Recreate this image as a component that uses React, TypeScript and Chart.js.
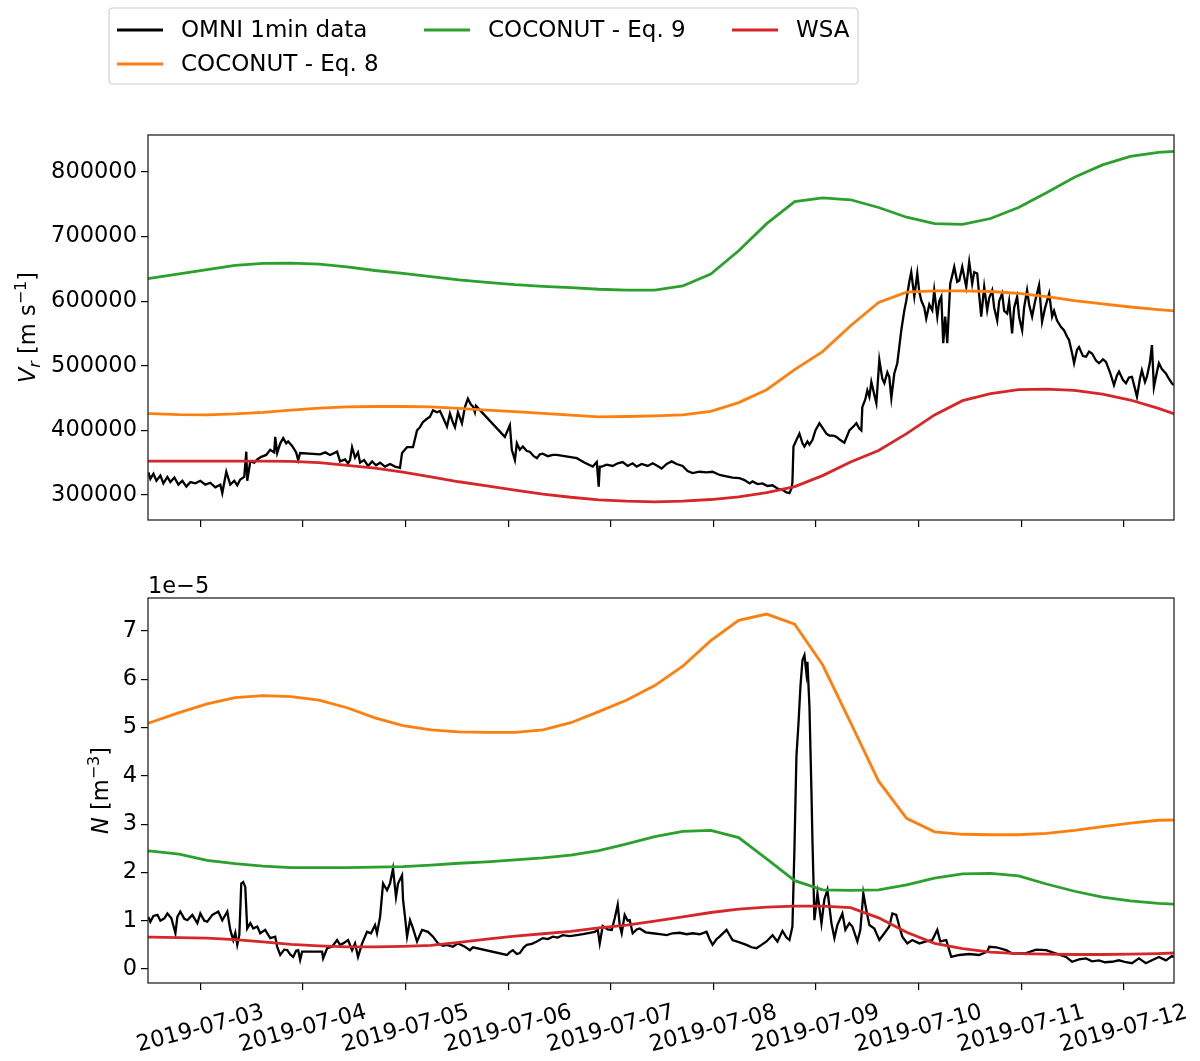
import React, { useEffect, useRef } from 'react';
import { Chart, registerables } from 'chart.js';

Chart.register(...registerables);

const FONT = '"DejaVu Sans", "Liberation Sans", sans-serif';

// ---- series styling / legend labels ----
const SERIES_LABELS = ['OMNI 1min data', 'COCONUT - Eq. 8', 'COCONUT - Eq. 9', 'WSA'];
const SERIES_COLORS = ['#000000', '#ff7f0e', '#2ca02c', '#d62728'];

// ---- x axis (day of July 2019) ----
const X_TICKS = [3, 4, 5, 6, 7, 8, 9, 10, 11, 12];
const X_TICK_LABELS = [
  '2019-07-03', '2019-07-04', '2019-07-05', '2019-07-06', '2019-07-07',
  '2019-07-08', '2019-07-09', '2019-07-10', '2019-07-11', '2019-07-12',
];
const V_TICKS = [300000, 400000, 500000, 600000, 700000, 800000];
const N_TICKS = [0, 1, 2, 3, 4, 5, 6, 7];

// ---- model output times (day of July 2019) ----
const MODEL_T = [
  2.248, 2.521, 2.793, 3.066, 3.339, 3.611, 3.884, 4.157, 4.43, 4.702,
  4.975, 5.248, 5.52, 5.793, 6.066, 6.339, 6.611, 6.884, 7.157, 7.429,
  7.702, 7.975, 8.247, 8.52, 8.793, 9.065, 9.338, 9.611, 9.884, 10.156,
  10.429, 10.702, 10.975, 11.247, 11.52, 11.793, 12.065, 12.338, 12.611,
];

// ---- Vr [m/s] ----
const V_EQ8 = [
  426500, 426000, 424500, 424000, 425500, 428000, 431500, 434500, 436500, 437000,
  437000, 436500, 434000, 431500, 429000, 426500, 423500, 421000, 421500, 422500,
  424000, 429500, 443000, 463000, 494000, 522000, 562000, 598000, 614000, 616000,
  616000, 615000, 612000, 607000, 601000, 596000, 591000, 587000, 583500,
];
const V_EQ9 = [
  629000, 635700, 642400, 649000, 655500, 658500, 659000, 657500, 653000, 647500,
  643000, 638000, 633000, 629000, 625500, 623000, 621000, 618500, 617000, 617000,
  623500, 642000, 678000, 720000, 754000, 760000, 757000, 745000, 730000, 720000,
  719000, 728000, 745000, 768000, 792000, 811000, 824000, 830500, 833000,
];
const V_WSA = [
  352500, 352500, 352500, 352500, 352500, 352500, 352000, 350000, 346000, 341500,
  335500, 328000, 320500, 314000, 307500, 301500, 296500, 292500, 290500, 289500,
  290500, 293000, 297000, 303500, 313000, 330000, 351000, 369000, 395000, 424000,
  446000, 457000, 463000, 464000, 462000, 456000, 447000, 434000, 419000,
];

// ---- N [1e-5 m^-3] ----
const N_EQ8 = [
  4.91, 5.11, 5.31, 5.49, 5.62, 5.66, 5.64, 5.57, 5.41, 5.2,
  5.04, 4.95, 4.91, 4.9, 4.9, 4.95, 5.1, 5.33, 5.57, 5.87,
  6.27, 6.8, 7.22, 7.35, 7.14, 6.3, 5.1, 3.89, 3.12, 2.84,
  2.79, 2.78, 2.78, 2.81, 2.87, 2.95, 3.02, 3.08, 3.09,
];
const N_EQ9 = [
  2.47, 2.44, 2.38, 2.25, 2.18, 2.13, 2.1, 2.1, 2.1, 2.11,
  2.12, 2.15, 2.19, 2.22, 2.26, 2.3, 2.36, 2.45, 2.59, 2.74,
  2.85, 2.87, 2.72, 2.28, 1.83, 1.64, 1.63, 1.64, 1.74, 1.88,
  1.97, 1.98, 1.93, 1.76, 1.61, 1.49, 1.41, 1.36, 1.33,
];
const N_WSA = [
  0.66, 0.66, 0.65, 0.64, 0.61, 0.56, 0.51, 0.48, 0.46, 0.46,
  0.47, 0.49, 0.55, 0.62, 0.68, 0.73, 0.78, 0.85, 0.91, 0.99,
  1.08, 1.17, 1.24, 1.28, 1.3, 1.3, 1.27, 1.06, 0.76, 0.53,
  0.42, 0.35, 0.32, 0.31, 0.3, 0.3, 0.31, 0.32, 0.34,
];

// ---- OMNI 1-min Vr (sampled trace) ----
const OMNI_V_T = [
  2.494, 2.513, 2.543, 2.572, 2.611, 2.64, 2.679, 2.708, 2.747, 2.786, 2.825, 2.864, 2.903, 2.951,
  3.0, 3.049, 3.097, 3.146, 3.195, 3.214, 3.253, 3.292, 3.331, 3.36, 3.389, 3.428, 3.448, 3.457,
  3.487, 3.526, 3.555, 3.594, 3.642, 3.681, 3.72, 3.73, 3.749, 3.779, 3.808, 3.837, 3.856, 3.895,
  3.934, 3.954, 3.973, 4.168, 4.217, 4.265, 4.333, 4.362, 4.411, 4.44, 4.459, 4.479, 4.508, 4.537,
  4.557, 4.596, 4.635, 4.674, 4.713, 4.752, 4.8, 4.849, 4.898, 4.946, 4.966, 5.015, 5.073, 5.112,
  5.141, 5.17, 5.209, 5.238, 5.268, 5.307, 5.336, 5.365, 5.404, 5.433, 5.462, 5.482, 5.511, 5.55,
  5.579, 5.608, 5.637, 5.657, 5.676, 5.686, 5.968, 6.017, 6.036, 6.066, 6.085, 6.114, 6.143, 6.182,
  6.211, 6.25, 6.28, 6.309, 6.338, 6.387, 6.436, 6.474, 6.669, 6.747, 6.825, 6.864, 6.883, 6.893,
  6.912, 6.961, 7.019, 7.068, 7.117, 7.165, 7.214, 7.253, 7.302, 7.36, 7.409, 7.457, 7.496, 7.545,
  7.594, 7.642, 7.701, 7.749, 7.798, 7.866, 7.934, 7.993, 8.061, 8.129, 8.187, 8.255, 8.304, 8.353,
  8.382, 8.431, 8.479, 8.528, 8.577, 8.625, 8.674, 8.713, 8.742, 8.762, 8.771, 8.781, 8.81, 8.839,
  8.869, 8.888, 8.917, 8.937, 8.966, 8.995, 9.034, 9.073, 9.102, 9.131, 9.17, 9.199, 9.238, 9.277,
  9.306, 9.326, 9.365, 9.394, 9.423, 9.443, 9.452, 9.481, 9.501, 9.521, 9.54, 9.569, 9.589, 9.618,
  9.647, 9.667, 9.696, 9.715, 9.735, 9.764, 9.793, 9.813, 9.832, 9.861, 9.881, 9.91, 9.929, 9.959,
  9.988, 10.007, 10.027, 10.056, 10.075, 10.105, 10.134, 10.153, 10.183, 10.202, 10.222, 10.241, 10.26, 10.28,
  10.309, 10.329, 10.348, 10.377, 10.397, 10.426, 10.445, 10.465, 10.494, 10.523, 10.543, 10.572, 10.591, 10.611,
  10.64, 10.669, 10.689, 10.718, 10.737, 10.767, 10.786, 10.815, 10.835, 10.864, 10.883, 10.912, 10.932, 10.961,
  10.981, 11.01, 11.029, 11.058, 11.078, 11.107, 11.136, 11.175, 11.204, 11.234, 11.273, 11.302, 11.321, 11.35,
  11.389, 11.418, 11.448, 11.467, 11.496, 11.516, 11.545, 11.564, 11.603, 11.633, 11.662, 11.691, 11.73, 11.759,
  11.798, 11.827, 11.866, 11.905, 11.934, 11.954, 11.993, 12.022, 12.051, 12.08, 12.109, 12.129, 12.158, 12.177,
  12.207, 12.226, 12.255, 12.275, 12.294, 12.323, 12.343, 12.372, 12.411, 12.44, 12.469, 12.489,
];
const OMNI_V = [
  335000, 325000, 333000, 322000, 330000, 318000, 328000, 320000, 327000, 316000, 322000, 313000, 320000, 318000,
  322000, 316000, 319000, 312000, 316000, 303000, 336000, 316000, 322000, 315000, 324000, 328000, 367000, 322000,
  352000, 350000, 355000, 359000, 362000, 370000, 366000, 390000, 365000, 380000, 388000, 380000, 383000, 376000,
  366000, 354000, 365000, 363000, 366000, 362000, 367000, 352000, 355000, 349000, 354000, 374000, 358000, 366000,
  350000, 354000, 345000, 352000, 346000, 350000, 344000, 348000, 344000, 342000, 365000, 374000, 374000, 400000,
  405000, 413000, 418000, 421000, 431000, 428000, 430000, 420000, 406000, 426000, 412000, 405000, 428000, 411000,
  436000, 449000, 440000, 437000, 428000, 438000, 390000, 408000, 370000, 354000, 380000, 370000, 375000, 368000,
  367000, 360000, 357000, 363000, 364000, 360000, 362000, 362000, 357000, 350000, 344000, 351000, 313000, 344000,
  344000, 347000, 345000, 349000, 351000, 345000, 349000, 344000, 348000, 345000, 349000, 345000, 341000, 348000,
  352000, 348000, 345000, 337000, 334000, 336000, 335000, 336000, 331000, 329000, 327000, 326000, 323000, 318000,
  321000, 317000, 318000, 314000, 315000, 310000, 308000, 304000, 303000, 310000, 320000, 375000, 385000, 395000,
  380000, 375000, 383000, 378000, 385000, 400000, 411000, 402000, 395000, 392000, 392000, 390000, 385000, 381000,
  392000, 400000, 406000, 411000, 403000, 400000, 436000, 448000, 462000, 452000, 475000, 455000, 442000, 509000,
  480000, 473000, 490000, 483000, 450000, 488000, 504000, 530000, 555000, 585000, 601000, 630000, 645000, 607000,
  643000, 615000, 601000, 590000, 573000, 595000, 586000, 617000, 576000, 600000, 607000, 535000, 576000, 535000,
  627000, 640000, 653000, 630000, 632000, 653000, 638000, 622000, 661000, 627000, 645000, 643000, 610000, 576000,
  622000, 586000, 605000, 617000, 590000, 570000, 600000, 612000, 585000, 581000, 600000, 550000, 590000, 607000,
  575000, 555000, 590000, 617000, 595000, 576000, 600000, 625000, 568000, 590000, 612000, 576000, 585000, 570000,
  560000, 555000, 545000, 540000, 520000, 504000, 525000, 529000, 515000, 514000, 522000, 519000, 508000, 504000,
  510000, 506000, 490000, 470000, 485000, 491000, 478000, 473000, 482000, 483000, 465000, 452000, 480000, 493000,
  475000, 483000, 505000, 532000, 467000, 490000, 504000, 495000, 488000, 480000, 473000, 470000,
];

// ---- OMNI 1-min N [1e-5 m^-3] (sampled trace) ----
const OMNI_N_T = [
  2.494, 2.513, 2.543, 2.582, 2.611, 2.65, 2.679, 2.718, 2.757, 2.776, 2.805, 2.844, 2.874, 2.922,
  2.971, 3.0, 3.039, 3.068, 3.117, 3.175, 3.214, 3.263, 3.292, 3.321, 3.341, 3.36, 3.38, 3.399,
  3.418, 3.438, 3.457, 3.487, 3.516, 3.555, 3.584, 3.632, 3.681, 3.73, 3.749, 3.779, 3.818, 3.847,
  3.876, 3.905, 3.934, 3.954, 3.973, 3.992, 4.187, 4.197, 4.236, 4.284, 4.333, 4.362, 4.392, 4.44,
  4.479, 4.508, 4.537, 4.577, 4.625, 4.664, 4.703, 4.722, 4.752, 4.781, 4.82, 4.849, 4.878, 4.907,
  4.927, 4.966, 4.976, 4.995, 5.015, 5.044, 5.073, 5.112, 5.161, 5.219, 5.268, 5.316, 5.365, 5.404,
  5.462, 5.511, 5.579, 5.628, 5.657, 5.988, 6.017, 6.046, 6.085, 6.114, 6.153, 6.182, 6.231, 6.28,
  6.338, 6.387, 6.436, 6.484, 6.533, 6.601, 6.669, 6.728, 6.796, 6.844, 6.874, 6.893, 6.922, 6.971,
  7.01, 7.039, 7.068, 7.088, 7.107, 7.136, 7.165, 7.185, 7.214, 7.253, 7.282, 7.341, 7.409, 7.477,
  7.545, 7.603, 7.671, 7.74, 7.798, 7.866, 7.934, 7.963, 7.993, 8.032, 8.061, 8.129, 8.187, 8.255,
  8.323, 8.372, 8.421, 8.47, 8.518, 8.577, 8.625, 8.674, 8.713, 8.742, 8.771, 8.791, 8.81, 8.83,
  8.849, 8.869, 8.888, 8.907, 8.917, 8.937, 8.956, 8.966, 8.976, 8.985, 9.015, 9.054, 9.083, 9.112,
  9.151, 9.18, 9.209, 9.258, 9.287, 9.326, 9.355, 9.404, 9.433, 9.462, 9.491, 9.521, 9.569, 9.618,
  9.667, 9.715, 9.745, 9.783, 9.813, 9.842, 9.891, 9.939, 10.007, 10.075, 10.134, 10.183, 10.212, 10.27,
  10.299, 10.319, 10.397, 10.494, 10.591, 10.669, 10.689, 10.757, 10.854, 10.912, 11.049, 11.146, 11.243, 11.341,
  11.438, 11.496, 11.564, 11.633, 11.691, 11.759, 11.817, 11.885, 11.954, 12.022, 12.08, 12.148, 12.216, 12.275,
  12.343, 12.411, 12.469, 12.489,
];
const OMNI_N = [
  1.08, 0.98, 1.1, 1.12, 1.0, 1.05, 1.15, 1.05, 0.74, 1.08, 1.19, 1.04, 1.01, 1.12,
  0.95, 1.15, 1.0, 0.98, 1.12, 1.19, 1.01, 1.19, 0.81, 0.6, 0.75, 0.5, 0.7, 1.77,
  1.8, 1.7, 0.84, 0.95, 0.84, 0.88, 0.74, 0.81, 0.64, 0.67, 0.46, 0.29, 0.4, 0.39,
  0.3, 0.25, 0.38, 0.39, 0.19, 0.36, 0.36, 0.22, 0.43, 0.46, 0.6, 0.5, 0.53, 0.6,
  0.39, 0.53, 0.25, 0.53, 0.77, 0.74, 0.91, 0.74, 1.08, 1.77, 1.63, 1.77, 2.08, 1.49,
  1.77, 1.94, 1.43, 1.08, 0.67, 1.01, 0.84, 0.57, 0.81, 0.77, 0.67, 0.53, 0.48, 0.5,
  0.46, 0.53, 0.46, 0.39, 0.45, 0.29, 0.35, 0.39, 0.31, 0.33, 0.45, 0.5, 0.52, 0.57,
  0.64, 0.62, 0.67, 0.65, 0.7, 0.68, 0.7, 0.72, 0.75, 0.77, 0.81, 0.53, 0.89, 0.82,
  0.81, 1.05, 1.33, 0.9, 0.74, 1.12, 1.0, 1.01, 0.74, 0.82, 0.84, 0.76, 0.74, 0.72,
  0.7, 0.74, 0.75, 0.72, 0.74, 0.72, 0.77, 0.62, 0.5, 0.62, 0.67, 0.81, 0.6, 0.55,
  0.5, 0.45, 0.43, 0.5, 0.57, 0.7, 0.57, 0.79, 0.65, 0.6, 0.88, 2.53, 4.4, 5.09,
  5.85, 6.4, 6.5, 6.13, 6.36, 5.43, 3.71, 2.67, 1.84, 1.01, 1.57, 0.94, 1.45, 1.64,
  0.95, 0.64, 0.91, 1.15, 0.81, 0.95, 0.88, 0.57, 0.81, 1.57, 1.22, 0.91, 0.84, 0.6,
  0.74, 0.88, 1.15, 1.12, 0.88, 0.67, 0.53, 0.6, 0.53, 0.57, 0.6, 0.81, 0.57, 0.6,
  0.39, 0.25, 0.29, 0.31, 0.29, 0.36, 0.46, 0.45, 0.39, 0.32, 0.33, 0.4, 0.39, 0.32,
  0.25, 0.15, 0.2, 0.22, 0.16, 0.18, 0.14, 0.15, 0.18, 0.14, 0.12, 0.22, 0.12, 0.18,
  0.25, 0.18, 0.27, 0.25,
];

const X_MIN = 2.49;
const X_MAX = 12.49;

function pts(ts: number[], vs: number[]) {
  return ts.map((t, i) => ({ x: t, y: vs[i] }));
}

function lineDs(idx: number, ts: number[], vs: number[]) {
  return {
    label: SERIES_LABELS[idx],
    data: pts(ts, vs),
    borderColor: SERIES_COLORS[idx],
    backgroundColor: SERIES_COLORS[idx],
    borderWidth: idx === 0 ? 2.3 : 2.8,
    pointRadius: 0,
    tension: 0,
    fill: false,
    order: 4 - idx,
  };
}

type Part = { t: string; italic?: boolean; size: number; dy: number };

function drawRotatedRich(ctx: CanvasRenderingContext2D, parts: Part[], bx: number, cy: number) {
  ctx.save();
  ctx.translate(bx, cy);
  ctx.rotate(-Math.PI / 2);
  ctx.fillStyle = '#000';
  ctx.textAlign = 'left';
  ctx.textBaseline = 'alphabetic';
  let total = 0;
  for (const p of parts) {
    ctx.font = `${p.italic ? 'italic ' : ''}${p.size}px ${FONT}`;
    total += ctx.measureText(p.t).width;
  }
  let x = -total / 2;
  for (const p of parts) {
    ctx.font = `${p.italic ? 'italic ' : ''}${p.size}px ${FONT}`;
    ctx.fillText(p.t, x, p.dy);
    x += ctx.measureText(p.t).width;
  }
  ctx.restore();
}

const framePlugin = {
  id: 'frame',
  afterDraw(chart: any) {
    const { ctx, chartArea: a } = chart;
    ctx.save();
    ctx.strokeStyle = '#262626';
    ctx.lineWidth = 1.3;
    ctx.strokeRect(a.left, a.top, a.right - a.left, a.bottom - a.top);
    ctx.restore();
  },
};

const legendPlugin = {
  id: 'customLegend',
  afterDraw(chart: any) {
    const ctx = chart.ctx as CanvasRenderingContext2D;
    ctx.save();
    const bx = 109, by = 8, bw = 749, bh = 76, r = 4;
    ctx.beginPath();
    ctx.moveTo(bx + r, by);
    ctx.lineTo(bx + bw - r, by);
    ctx.quadraticCurveTo(bx + bw, by, bx + bw, by + r);
    ctx.lineTo(bx + bw, by + bh - r);
    ctx.quadraticCurveTo(bx + bw, by + bh, bx + bw - r, by + bh);
    ctx.lineTo(bx + r, by + bh);
    ctx.quadraticCurveTo(bx, by + bh, bx, by + bh - r);
    ctx.lineTo(bx, by + r);
    ctx.quadraticCurveTo(bx, by, bx + r, by);
    ctx.closePath();
    ctx.fillStyle = 'rgba(255,255,255,0.8)';
    ctx.fill();
    ctx.strokeStyle = '#d0d0d0';
    ctx.lineWidth = 1.2;
    ctx.stroke();
    const slots = [
      { lx: 117, ty: 30 },
      { lx: 117, ty: 64 },
      { lx: 424, ty: 30 },
      { lx: 732, ty: 30 },
    ];
    ctx.font = `23px ${FONT}`;
    ctx.textAlign = 'left';
    ctx.textBaseline = 'middle';
    SERIES_LABELS.forEach((lab, i) => {
      const s = slots[i];
      ctx.strokeStyle = SERIES_COLORS[i];
      ctx.lineWidth = 2.8;
      ctx.beginPath();
      ctx.moveTo(s.lx, s.ty);
      ctx.lineTo(s.lx + 46, s.ty);
      ctx.stroke();
      ctx.fillStyle = '#000';
      ctx.fillText(lab, s.lx + 64, s.ty + 1);
    });
    ctx.restore();
  },
};

const vTitlePlugin = {
  id: 'vTitle',
  afterDraw(chart: any) {
    drawRotatedRich(chart.ctx, [
      { t: 'V', italic: true, size: 22.5, dy: 0 },
      { t: 'r', italic: true, size: 16, dy: 5 },
      { t: ' [m s', size: 22.5, dy: 0 },
      { t: '\u22121', size: 16, dy: -9 },
      { t: ']', size: 22.5, dy: 0 },
    ], 35, 327.5);
  },
};

const nTitlePlugin = {
  id: 'nTitle',
  afterDraw(chart: any) {
    const ctx = chart.ctx as CanvasRenderingContext2D;
    drawRotatedRich(ctx, [
      { t: 'N', italic: true, size: 22.5, dy: 0 },
      { t: ' [m', size: 22.5, dy: 0 },
      { t: '\u22123', size: 16, dy: -9 },
      { t: ']', size: 22.5, dy: 0 },
    ], 108, 230.5);
    ctx.save();
    ctx.font = `22.5px ${FONT}`;
    ctx.fillStyle = '#000';
    ctx.textAlign = 'left';
    ctx.textBaseline = 'alphabetic';
    ctx.fillText('1e\u22125', 148, 33);
    ctx.restore();
  },
};

const xLabelPlugin = {
  id: 'xLabels',
  afterDraw(chart: any) {
    const ctx = chart.ctx as CanvasRenderingContext2D;
    const xs = chart.scales.x;
    ctx.save();
    ctx.font = `22.5px ${FONT}`;
    ctx.fillStyle = '#000';
    ctx.textAlign = 'center';
    ctx.textBaseline = 'middle';
    X_TICKS.forEach((v, i) => {
      const px = xs.getPixelForValue(v);
      ctx.save();
      ctx.translate(px, 469);
      ctx.rotate((-15 * Math.PI) / 180);
      ctx.fillText(X_TICK_LABELS[i], 0, 0);
      ctx.restore();
    });
    ctx.restore();
  },
};

function xScale(height: number) {
  return {
    type: 'linear' as const,
    min: X_MIN,
    max: X_MAX,
    afterBuildTicks: (s: any) => {
      s.ticks = X_TICKS.map((v) => ({ value: v }));
    },
    afterFit: (s: any) => {
      s.height = height;
    },
    ticks: { display: false },
    grid: { drawOnChartArea: false, drawTicks: true, tickLength: 7, color: '#000', lineWidth: 1.2 },
    border: { display: false },
  };
}

function yScale(min: number, max: number, ticks: number[]) {
  return {
    type: 'linear' as const,
    min,
    max,
    afterBuildTicks: (s: any) => {
      s.ticks = ticks.map((v) => ({ value: v }));
    },
    afterFit: (s: any) => {
      s.width = 148;
    },
    ticks: {
      autoSkip: false,
      color: '#000',
      padding: 4,
      font: { size: 22.5, family: FONT },
      callback: (v: any) => String(v),
    },
    grid: { drawOnChartArea: false, drawTicks: true, tickLength: 7, color: '#000', lineWidth: 1.2 },
    border: { display: false },
  };
}

export default function App() {
  const topRef = useRef<HTMLCanvasElement | null>(null);
  const botRef = useRef<HTMLCanvasElement | null>(null);

  useEffect(() => {
    document.body.style.margin = '0';
    const top = new Chart(topRef.current as HTMLCanvasElement, {
      type: 'line',
      data: {
        datasets: [
          lineDs(0, OMNI_V_T, OMNI_V),
          lineDs(1, MODEL_T, V_EQ8),
          lineDs(2, MODEL_T, V_EQ9),
          lineDs(3, MODEL_T, V_WSA),
        ] as any,
      },
      options: {
        responsive: false,
        maintainAspectRatio: false,
        animation: false,
        layout: { padding: { left: 0, right: 26, top: 135, bottom: 0 } },
        plugins: { legend: { display: false }, tooltip: { enabled: false } },
        scales: {
          x: xScale(40),
          y: yScale(261300, 857250, V_TICKS),
        } as any,
      },
      plugins: [framePlugin, legendPlugin, vTitlePlugin],
    });

    const bot = new Chart(botRef.current as HTMLCanvasElement, {
      type: 'line',
      data: {
        datasets: [
          lineDs(0, OMNI_N_T, OMNI_N),
          lineDs(1, MODEL_T, N_EQ8),
          lineDs(2, MODEL_T, N_EQ9),
          lineDs(3, MODEL_T, N_WSA),
        ] as any,
      },
      options: {
        responsive: false,
        maintainAspectRatio: false,
        animation: false,
        layout: { padding: { left: 0, right: 26, top: 38, bottom: 0 } },
        plugins: { legend: { display: false }, tooltip: { enabled: false } },
        scales: {
          x: xScale(78),
          y: yScale(-0.29, 7.683, N_TICKS),
        } as any,
      },
      plugins: [framePlugin, nTitlePlugin, xLabelPlugin],
    });

    return () => {
      top.destroy();
      bot.destroy();
    };
  }, []);

  return (
    <div style={{ position: 'absolute', left: 0, top: 0, width: 1200, height: 1061, background: '#fff' }}>
      <canvas
        ref={topRef}
        width={1200}
        height={560}
        style={{ position: 'absolute', left: 0, top: 0, width: 1200, height: 560 }}
      />
      <canvas
        ref={botRef}
        width={1200}
        height={501}
        style={{ position: 'absolute', left: 0, top: 560, width: 1200, height: 501 }}
      />
    </div>
  );
}
